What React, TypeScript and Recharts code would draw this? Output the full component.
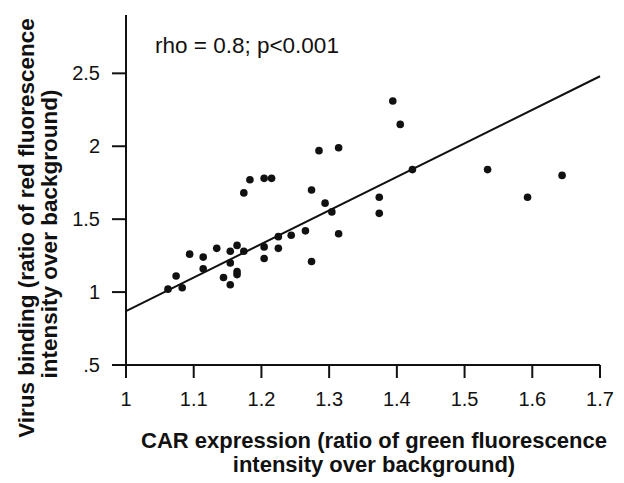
import { ScatterChart, Scatter, XAxis, YAxis, ReferenceLine } from 'recharts';

// CAR expression (x) vs virus binding (y)
const carExpression = [
  1.062, 1.083, 1.074, 1.094, 1.114, 1.114, 1.134, 1.144, 1.154, 1.154,
  1.154, 1.164, 1.164, 1.164, 1.174, 1.174, 1.183, 1.204, 1.215, 1.204,
  1.204, 1.225, 1.225, 1.244, 1.265, 1.274, 1.274, 1.285, 1.294, 1.304,
  1.314, 1.314, 1.374, 1.374, 1.394, 1.405, 1.423, 1.534, 1.593, 1.644,
];
const virusBinding = [
  1.02, 1.03, 1.11, 1.26, 1.24, 1.16, 1.30, 1.10, 1.28, 1.20,
  1.05, 1.32, 1.14, 1.12, 1.28, 1.68, 1.77, 1.78, 1.78, 1.31,
  1.23, 1.38, 1.30, 1.39, 1.42, 1.21, 1.70, 1.97, 1.61, 1.55,
  1.99, 1.40, 1.65, 1.54, 2.31, 2.15, 1.84, 1.84, 1.65, 1.80,
];

const xTicks = [1, 1.1, 1.2, 1.3, 1.4, 1.5, 1.6, 1.7];
const yTicks = [0.5, 1, 1.5, 2, 2.5];

// regression line end points
const fitStart = { x: 1, y: 0.87 };
const fitEnd = { x: 1.7, y: 2.48 };

const points = carExpression.map((x, i) => ({ x, y: virusBinding[i] }));

const FONT = '"Liberation Sans", Arial, sans-serif';
const INK = '#111';

const yTickFormat = (v: number) => (v === 0.5 ? '.5' : String(v));

const Dot = (props: any) => <circle cx={props.cx} cy={props.cy} r={3.8} fill={INK} />;

export default function App() {
  return (
    <div style={{ position: 'absolute', left: 0, top: 0, background: '#fff' }}>
      <ScatterChart width={624} height={483} margin={{ top: 15, right: 24, left: 0, bottom: 0 }}>
        <XAxis
          type="number"
          dataKey="x"
          domain={[1, 1.7]}
          ticks={xTicks}
          tickSize={13}
          tickMargin={14}
          height={118}
          stroke={INK}
          strokeWidth={2}
          tick={{ fill: INK, fontSize: 20, fontFamily: FONT }}
          label={{
            content: () => (
              <text fontFamily={FONT} fontWeight="bold" fontSize={22} fill={INK} textAnchor="middle">
                <tspan x={374} y={448}>CAR expression (ratio of green fluorescence</tspan>
                <tspan x={374} y={472}>intensity over background)</tspan>
              </text>
            ),
          }}
        />
        <YAxis
          type="number"
          dataKey="y"
          domain={[0.5, 2.9]}
          ticks={yTicks}
          tickFormatter={yTickFormat}
          tickSize={14}
          tickMargin={12}
          width={126}
          stroke={INK}
          strokeWidth={2}
          tick={{ fill: INK, fontSize: 20, fontFamily: FONT }}
          label={{
            content: () => (
              <g fontFamily={FONT} fontWeight="bold" fontSize={22.5} fill={INK}>
                <text textAnchor="middle" transform="translate(34,228) rotate(-90)">
                  Virus binding (ratio of red fluorescence
                </text>
                <text textAnchor="middle" transform="translate(57,234) rotate(-90)">
                  intensity over background)
                </text>
              </g>
            ),
          }}
        />
        <ReferenceLine segment={[fitStart, fitEnd]} stroke={INK} strokeWidth={2} ifOverflow="visible" />
        <Scatter data={points} shape={Dot} isAnimationActive={false} />
        <text x={155} y={53} fontFamily={FONT} fontSize={22.5} fill={INK}>
          rho = 0.8; p&lt;0.001
        </text>
      </ScatterChart>
    </div>
  );
}
